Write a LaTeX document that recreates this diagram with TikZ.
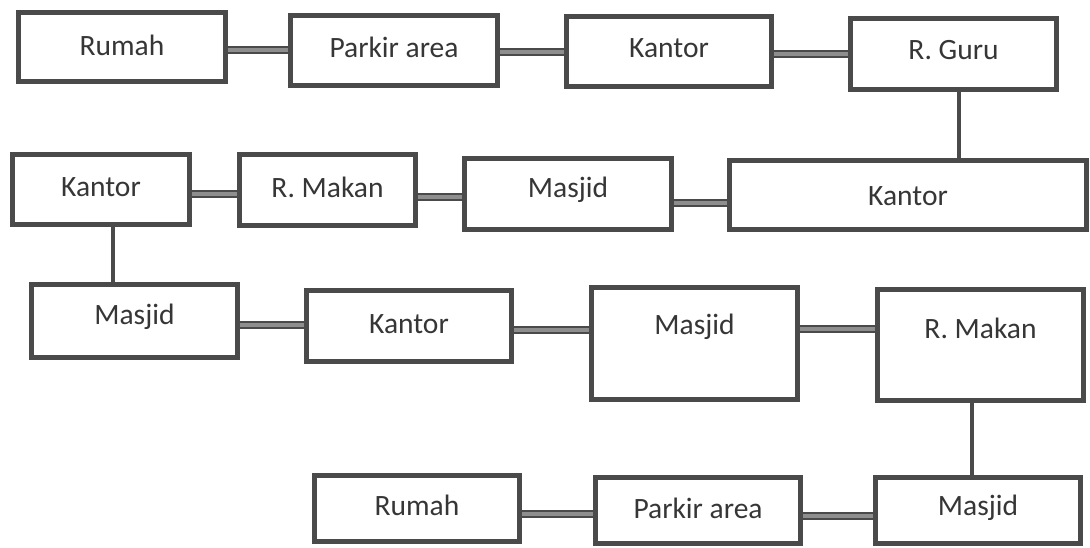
\documentclass[tikz,border=0pt]{standalone}
\usepackage{fontspec}
\setmainfont{Carlito}
\definecolor{edge}{HTML}{4A4A4A}
\definecolor{ink}{HTML}{363636}
\definecolor{linkfill}{HTML}{8E8E8E}
\tikzset{
  box/.style={draw=edge, line width=5pt, rectangle, fill=white, inner sep=0pt},
  lbl/.style={text=ink, font=\fontsize{29.5}{35}\selectfont, inner sep=0pt},
  hlink/.style={draw=edge, line width=1.8pt, double=linkfill, double distance=3.6pt},
  vlink/.style={draw=edge, line width=4.5pt}
}
% \roombox{name}{left}{top}{right}{bottom}{text}{text y}
\newcommand\roombox[7]{%
  \pgfmathsetmacro\bw{#4-#2-5}\pgfmathsetmacro\bh{#5-#3-5}%
  \node[box, minimum width=\bw pt, minimum height=\bh pt] (#1) at ({(#2+#4)/2},{(#3+#5)/2}) {};
  \node[lbl] (#1t) at ({(#2+#4)/2},#7) {#6};}
\begin{document}
\begin{tikzpicture}[x=1pt,y=-1pt]
\useasboundingbox (0,0) rectangle (1090,547);
\fill[white] (0,0) rectangle (1090,547);

% row 1
\roombox{rumahA}{16}{10}{228}{84}{Rumah}{45}
\roombox{parkirA}{288}{13}{500}{88}{Parkir area}{47}
\roombox{kantorA}{564}{14}{774}{89}{Kantor}{48}
\roombox{guru}{848}{16}{1059}{92}{R. Guru}{50}
% row 2
\roombox{kantorB}{10}{152}{192}{227}{Kantor}{187}
\roombox{makanB}{237}{152}{418}{228}{R. Makan}{187}
\roombox{masjidB}{462}{156}{674}{232}{Masjid}{190}
\roombox{kantorW}{727}{158}{1089}{232}{Kantor}{196}
% row 3
\roombox{masjidC}{29}{282}{240}{360}{Masjid}{317}
\roombox{kantorC}{304}{288}{514}{364}{Kantor}{324}
\roombox{masjidD}{589}{285}{800}{402}{Masjid}{327}
\roombox{makanC}{875}{287}{1086}{403}{R. Makan}{328}
% row 4
\roombox{rumahE}{312}{473}{522}{544}{Rumah}{505}
\roombox{parkirE}{593}{475}{803}{546}{Parkir area}{508}
\roombox{masjidE}{873}{475}{1083}{546}{Masjid}{508}

% horizontal links
\draw[hlink] (rumahA.east |- 0,50) -- (parkirA.west |- 0,50);
\draw[hlink] (parkirA.east |- 0,52) -- (kantorA.west |- 0,52);
\draw[hlink] (kantorA.east |- 0,54) -- (guru.west |- 0,54);
\draw[hlink] (kantorB.east |- 0,194) -- (makanB.west |- 0,194);
\draw[hlink] (makanB.east |- 0,197) -- (masjidB.west |- 0,197);
\draw[hlink] (masjidB.east |- 0,203) -- (kantorW.west |- 0,203);
\draw[hlink] (masjidC.east |- 0,325) -- (kantorC.west |- 0,325);
\draw[hlink] (kantorC.east |- 0,330) -- (masjidD.west |- 0,330);
\draw[hlink] (masjidD.east |- 0,329) -- (makanC.west |- 0,329);
\draw[hlink] (rumahE.east |- 0,514) -- (parkirE.west |- 0,514);
\draw[hlink] (parkirE.east |- 0,516) -- (masjidE.west |- 0,516);

% vertical links
\draw[vlink] (guru.south -| 959,0) -- (kantorW.north -| 959,0);
\draw[vlink] (kantorB.south -| 113,0) -- (masjidC.north -| 113,0);
\draw[vlink] (makanC.south -| 972,0) -- (masjidE.north -| 972,0);
\end{tikzpicture}
\end{document}
